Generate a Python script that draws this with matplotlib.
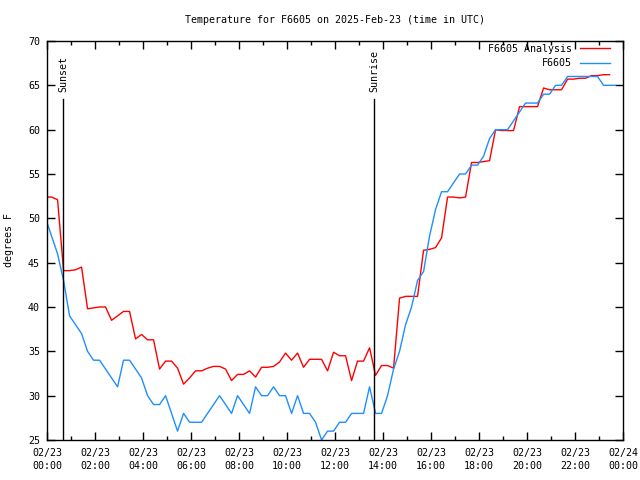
import numpy as np
import matplotlib
matplotlib.use("Agg")
import matplotlib.pyplot as plt
from matplotlib.ticker import MultipleLocator, FixedLocator

OUT_FILE = "out.png"
TITLE = "Temperature for F6605 on 2025-Feb-23 (time in UTC)"

# 15 min readings, first one a few minutes before midnight
STEP_H = 0.25
START_H = -0.06

ANALYSIS = [
    52.4, 52.4, 52.1, 44.1, 44.1, 44.2, 44.5, 39.8, 39.9, 40.0,
    40.0, 38.5, 39.0, 39.5, 39.5, 36.4, 36.9, 36.3, 36.3, 33.0,
    33.9, 33.9, 33.1, 31.3, 32.0, 32.8, 32.8, 33.1, 33.3, 33.3,
    33.0, 31.7, 32.4, 32.4, 32.8, 32.1, 33.2, 33.2, 33.3, 33.8,
    34.8, 34.0, 34.8, 33.2, 34.1, 34.1, 34.1, 32.8, 34.9, 34.5,
    34.5, 31.7, 33.9, 33.9, 35.4, 32.3, 33.4, 33.4, 33.1, 41.0,
    41.2, 41.2, 41.2, 46.4, 46.5, 46.7, 47.8, 52.4, 52.4, 52.3,
    52.4, 56.3, 56.3, 56.4, 56.5, 60.0, 59.9, 59.9, 59.9, 62.6,
    62.6, 62.6, 62.6, 64.7, 64.5, 64.5, 64.5, 65.7, 65.7, 65.8,
    65.8, 66.1, 66.1, 66.2, 66.2,
]

OBSERVED = [
    50, 48, 46, 43, 39, 38, 37, 35, 34, 34,
    33, 32, 31, 34, 34, 33, 32, 30, 29, 29,
    30, 28, 26, 28, 27, 27, 27, 28, 29, 30,
    29, 28, 30, 29, 28, 31, 30, 30, 31, 30,
    30, 28, 30, 28, 28, 27, 25, 26, 26, 27,
    27, 28, 28, 28, 31, 28, 28, 30, 33, 35,
    38, 40, 43, 44, 48, 51, 53, 53, 54, 55,
    55, 56, 56, 57, 59, 60, 60, 60, 61, 62,
    63, 63, 63, 64, 64, 65, 65, 66, 66, 66,
    66, 66, 66, 65, 65, 65,
]

SUNSET_H = 0.667
SUNRISE_H = 13.625
MARK_TOP = 63.5

TICK_HOURS = list(range(0, 25, 2))
TICK_LABELS = ["02/23\n%02d:00" % h for h in range(0, 24, 2)] + ["02/24\n00:00"]

RED = "#ff0000"
BLUE = "#1e8fff"
FONT = "DejaVu Sans Mono"


def main():
    plt.rcParams["font.family"] = FONT
    plt.rcParams["font.size"] = 7.2

    t_an = START_H + STEP_H * np.arange(len(ANALYSIS))
    t_ob = START_H + STEP_H * np.arange(len(OBSERVED))

    fig = plt.figure(figsize=(6.4, 4.8), dpi=100)
    ax = fig.add_axes([47 / 640, 1 - 440 / 480, 576 / 640, 399 / 480])

    ax.plot(t_an, ANALYSIS, color=RED, lw=1.0, label="F6605 Analysis")
    ax.plot(t_ob, OBSERVED, color=BLUE, lw=1.0, label="F6605")

    for h, name in [(SUNSET_H, "Sunset"), (SUNRISE_H, "Sunrise")]:
        ax.plot([h, h], [25, MARK_TOP], color="black", lw=1.0)
        ax.text(h, MARK_TOP + 0.7, name, rotation=90, ha="center", va="bottom")

    ax.set_xlim(0, 24)
    ax.set_ylim(25, 70)
    ax.xaxis.set_major_locator(FixedLocator(TICK_HOURS))
    ax.set_xticklabels(TICK_LABELS, linespacing=1.35)
    ax.xaxis.set_minor_locator(MultipleLocator(1))
    ax.yaxis.set_major_locator(MultipleLocator(5))
    ax.tick_params(which="both", direction="in", top=True, right=True, width=1)
    ax.tick_params(which="major", length=6)
    ax.tick_params(axis="x", which="major", pad=6)
    ax.tick_params(axis="y", which="major", pad=5)
    ax.tick_params(which="minor", length=3)
    for s in ax.spines.values():
        s.set_linewidth(1.0)

    ax.set_ylabel("degrees F", labelpad=10)
    ax.set_title(TITLE, pad=13, fontsize=7.2)

    ax.legend(loc="upper right", frameon=False, markerfirst=False,
              bbox_to_anchor=((610 - 47) / 576, (440 - 44) / 399),
              handlelength=3.0, handletextpad=0.8, labelspacing=0.45,
              borderaxespad=0, borderpad=0)

    fig.savefig(OUT_FILE, dpi=100)


if __name__ == "__main__":
    main()
